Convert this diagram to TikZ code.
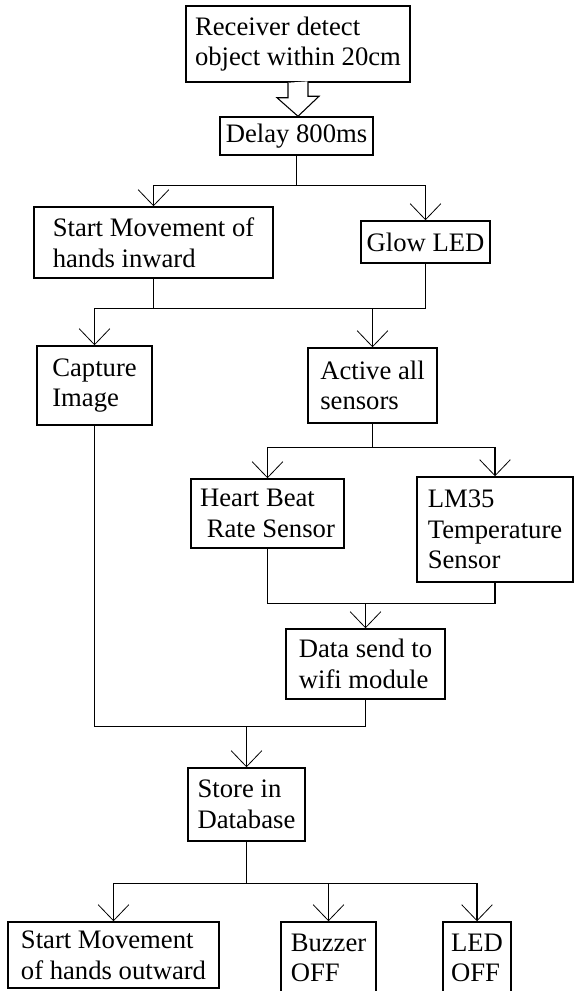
\documentclass[tikz,border=0pt]{standalone}
\usepackage{fontspec}
\setmainfont{Liberation Serif}
\usetikzlibrary{arrows.meta,calc}
\tikzset{
  flow node/.style={draw=black,line width=1.1pt,fill=white,align=left,
    inner xsep=0pt,inner ysep=0pt,font=\fontsize{20}{23}\selectfont},
  box size/.style 2 args={minimum width=0.75*#1pt,minimum height=0.75*#2pt},
  flow line/.style={draw=black,line width=1.1pt},
  flow arrow/.style={flow line,-{Straight Barb[length=12pt,width=23pt,line width=0.6pt]}}
}

\begin{document}
\begin{tikzpicture}[x=0.75pt,y=-0.75pt]
  \useasboundingbox (0,0) rectangle (574,991);
  % boxes, placed at their centres (px, y downwards)
  \node[flow node,box size={224}{76}] (recv) at (298,44) {Receiver detect\\object within 20cm};
  \node[flow node,box size={153}{38}] (delay) at (296.5,136) {Delay 800ms};
  \node[flow node,box size={239}{71}] (startin) at (153.5,242.5) {Start Movement of\\hands inward};
  \node[flow node,box size={129}{42}] (glow) at (425.5,242) {Glow LED};
  \node[flow node,box size={115}{79}] (capture) at (94.5,385.5) {Capture\\Image};
  \node[flow node,box size={129}{75}] (active) at (372.5,385.5) {Active all\\sensors};
  \node[flow node,box size={153}{69}] (heart) at (267.5,513.5) {Heart Beat\\\hspace*{0.25em}Rate Sensor};
  \node[flow node,box size={156}{105}] (lm35) at (495,529.5) {LM35\\Temperature\\Sensor};
  \node[flow node,box size={159}{70}] (data) at (365.5,664) {Data send to\\wifi module};
  \node[flow node,box size={117}{73}] (store) at (246.5,804.5) {Store in\\Database};
  \node[flow node,box size={211}{66}] (outward) at (113.5,955) {Start Movement\\of hands outward};
  \node[flow node,box size={95}{72}] (buzzer) at (328.5,958) {Buzzer\\OFF};
  \node[flow node,box size={68}{72}] (ledoff) at (477,958) {LED\\OFF};

  % hollow arrow
  \draw[draw=black,line width=0.8pt,fill=white] (recv.south) ++(-10,0) -- ++(0,15) -- ++(-11,0)
    -- (recv.south |- delay.north) -- ++(21,-20) -- ++(-11,0) -- ++(0,-15);

  \draw[flow arrow] (delay.south) -- ++(0,30) -| (startin.north);
  \draw[flow arrow] (delay.south) -- ++(0,30) -| (glow.north);

  \draw[flow line] (startin.south) -- ++(0,30) coordinate (j2) -| (glow.south);
  \draw[flow arrow] (j2) -| (capture.north);
  \draw[flow arrow] (j2) -| (active.north);

  \draw[flow arrow] (active.south) -- ++(0,24) -| (heart.north);
  \draw[flow arrow] (active.south) -- ++(0,24) -| (lm35.north);

  \draw[flow line] (lm35.south) -- ++(0,21) coordinate (j4) -| (heart.south);
  \draw[flow arrow] (j4) -| (data.north);

  \draw[flow line] (data.south) -- ++(0,27) coordinate (j5) -| (capture.south);
  \draw[flow arrow] (j5) -| (store.north);

  \draw[flow arrow] (store.south) -- ++(0,42) -| (outward.north);
  \draw[flow arrow] (store.south) -- ++(0,42) -| (buzzer.north);
  \draw[flow arrow] (store.south) -- ++(0,42) -| (ledoff.north);
\end{tikzpicture}
\end{document}
